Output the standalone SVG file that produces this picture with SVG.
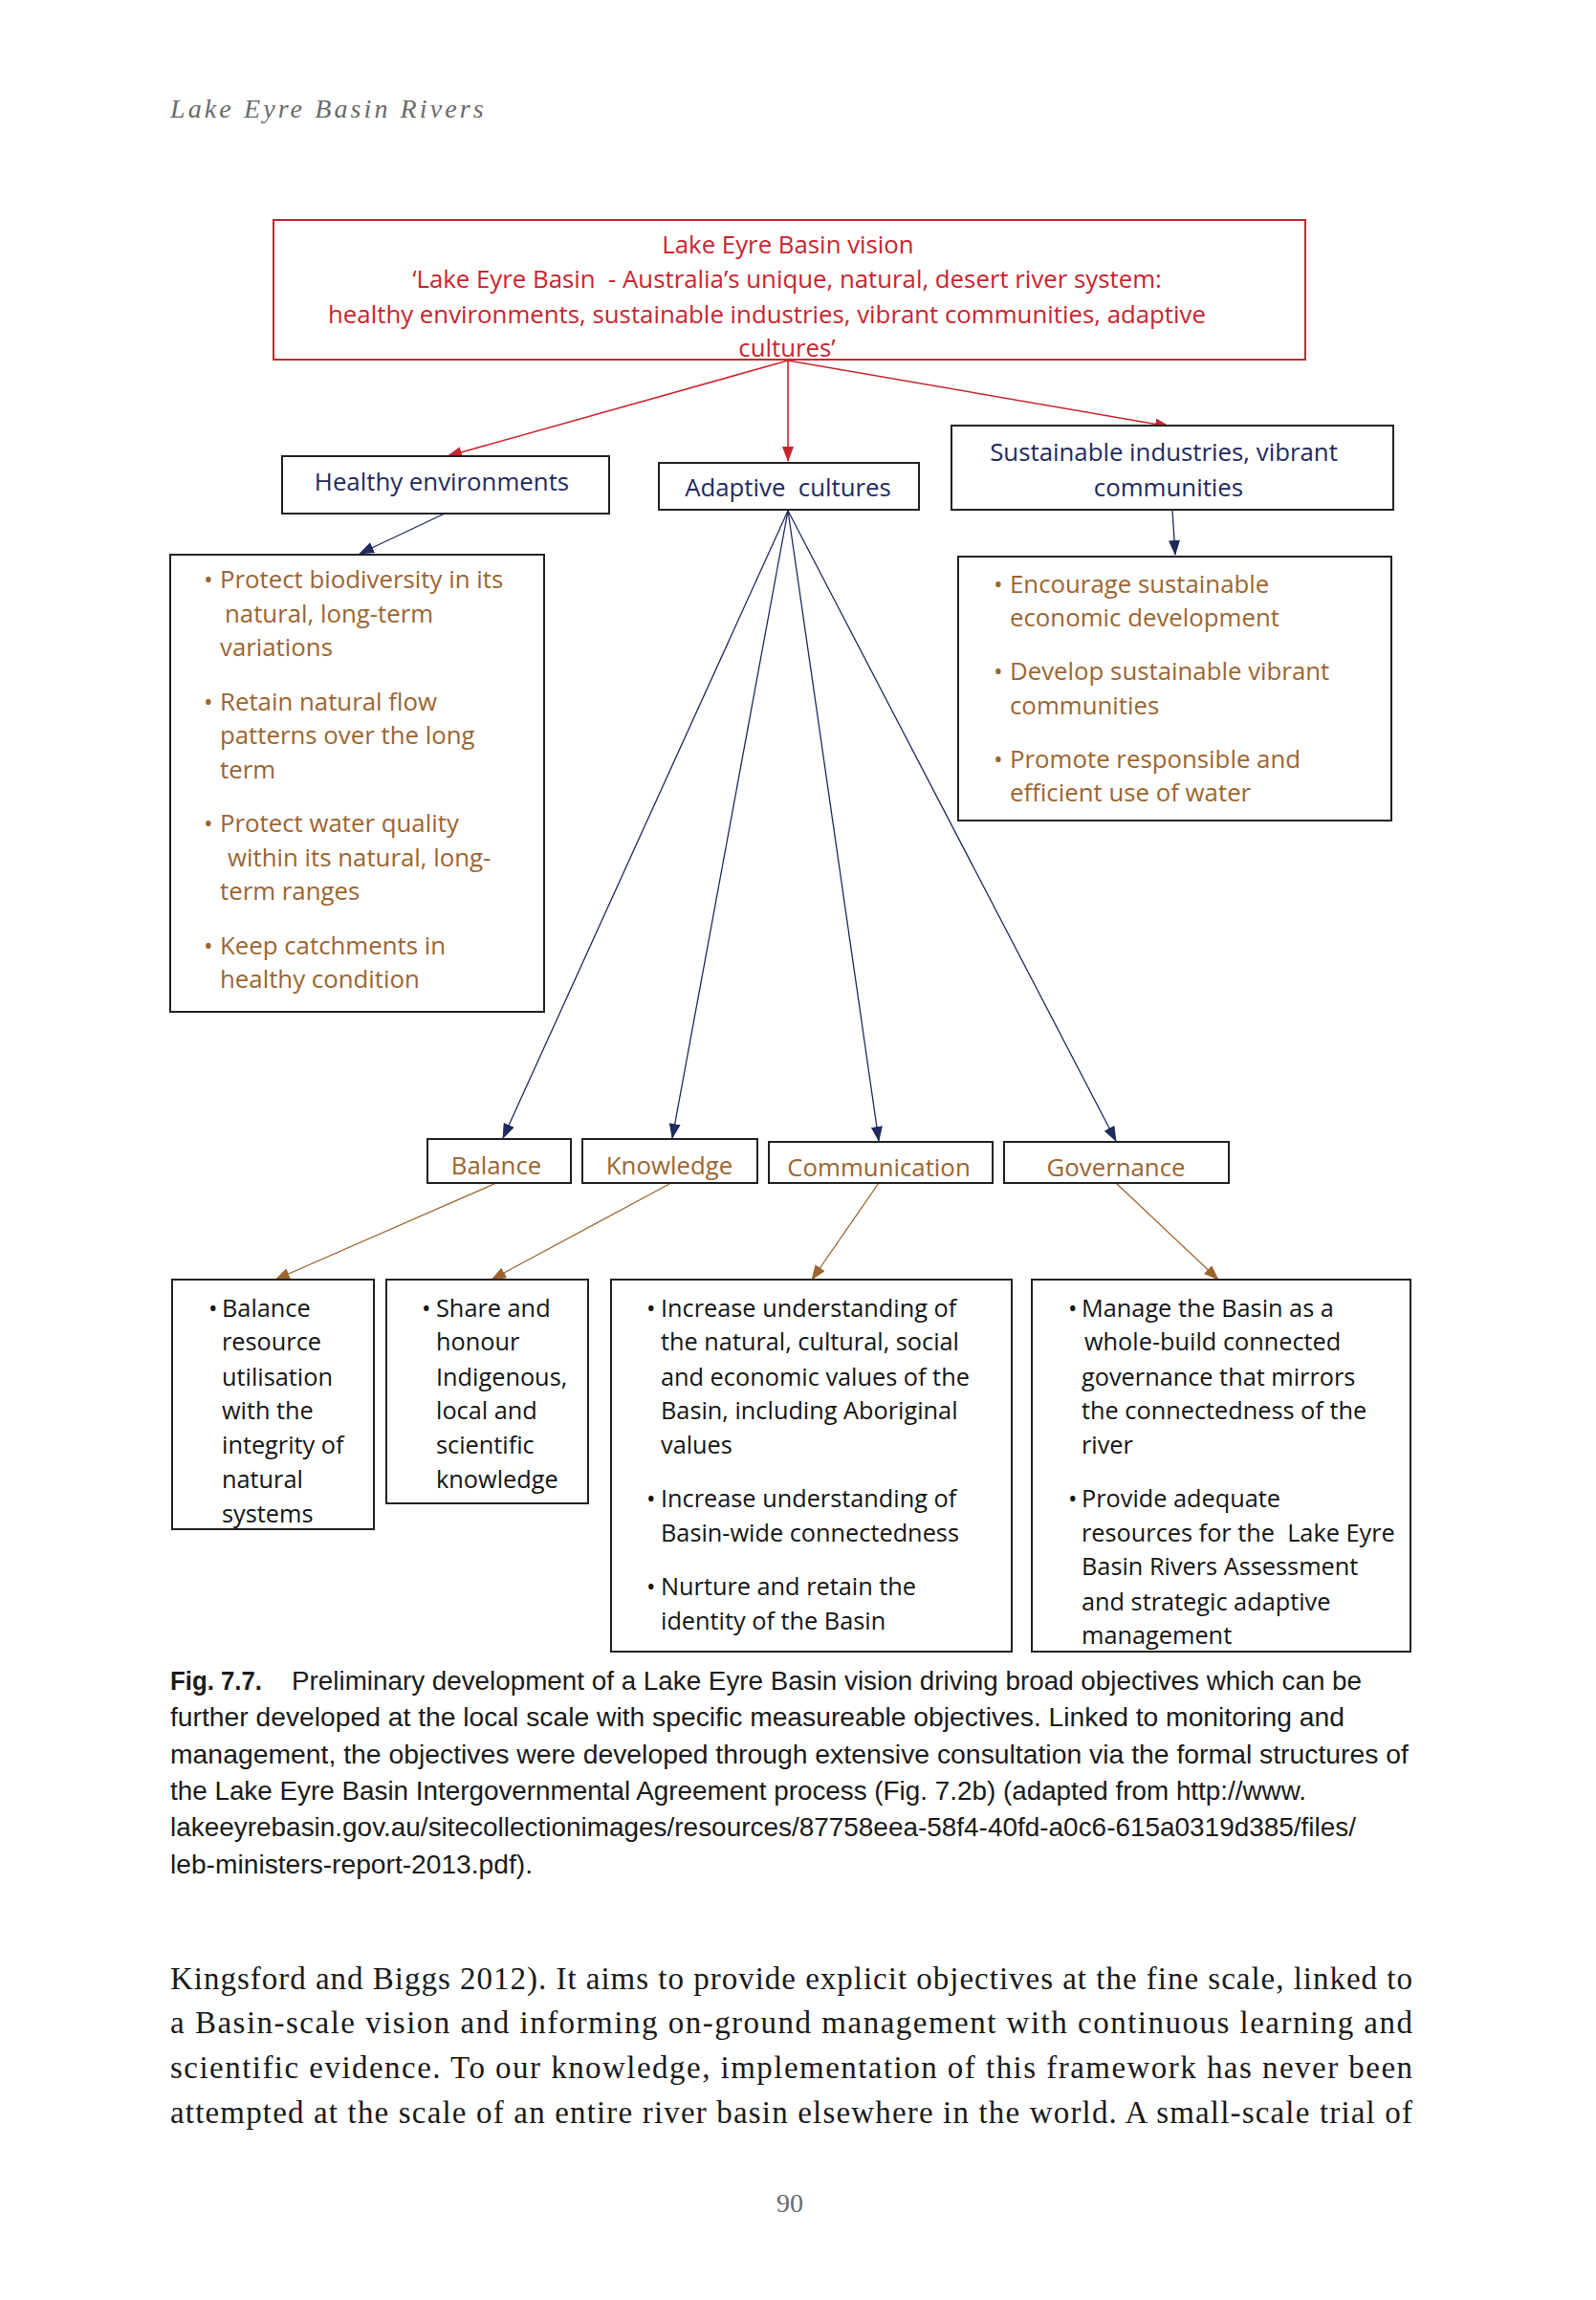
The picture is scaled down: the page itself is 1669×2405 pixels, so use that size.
<svg xmlns="http://www.w3.org/2000/svg" width="1669" height="2405" viewBox="0 0 1669 2405">
<style>
.bg{fill:#ffffff}
.box{fill:#ffffff;stroke:#222222;stroke-width:2}
.vbox{fill:#ffffff;stroke:#c9252f;stroke-width:2}
.gs{font-family:"Open Sans","Lato","Liberation Sans",sans-serif;font-size:25.8px}
.red{fill:#c9252f}
.navy{fill:#1f2a5e}
.brown{fill:#9c6530}
.blk{fill:#141414;font-size:25.3px}
.cap{font-family:"Liberation Sans","Arial",sans-serif;font-size:27.5px;fill:#1a1a1a}
.body{font-family:"Liberation Serif","Times New Roman",serif;font-size:33px;fill:#1a1a1a}
.lr{stroke:#c9252f;stroke-width:1.6;fill:none}
.ln{stroke:#1f2a5e;stroke-width:1.3;fill:none}
.lb{stroke:#9c6530;stroke-width:1.3;fill:none}
</style>
<defs>
<marker id="ar" markerUnits="userSpaceOnUse" markerWidth="16" markerHeight="12" refX="15" refY="6" orient="auto"><path d="M0,0 L16,6 L0,12 z" fill="#c9252f"/></marker>
<marker id="an" markerUnits="userSpaceOnUse" markerWidth="16" markerHeight="12" refX="15" refY="6" orient="auto"><path d="M0,0 L16,6 L0,12 z" fill="#1f2a5e"/></marker>
<marker id="ab" markerUnits="userSpaceOnUse" markerWidth="16" markerHeight="12" refX="15" refY="6" orient="auto"><path d="M0,0 L16,6 L0,12 z" fill="#9c6530"/></marker>
</defs>
<rect class="bg" x="0" y="0" width="1669" height="2405"/>

<text x="178" y="123" font-family="Liberation Serif,serif" font-style="italic" font-size="28" letter-spacing="3.1" fill="#6a6a6a">Lake Eyre Basin Rivers</text>

<g id="connectors">
<path class="lr" d="M824,377 L468,477" marker-end="url(#ar)"/>
<path class="lr" d="M824,377 L824,482" marker-end="url(#ar)"/>
<path class="lr" d="M824,377 L1223,446" marker-end="url(#ar)"/>
<path class="ln" d="M465,537 L376,579" marker-end="url(#an)"/>
<path class="ln" d="M1226,533 L1229,580" marker-end="url(#an)"/>
<path class="ln" d="M824,534 L526,1190" marker-end="url(#an)"/>
<path class="ln" d="M824,534 L703,1190" marker-end="url(#an)"/>
<path class="ln" d="M824,534 L919,1193" marker-end="url(#an)"/>
<path class="ln" d="M824,534 L1167,1193" marker-end="url(#an)"/>
<path class="lb" d="M519,1237 L288,1338" marker-end="url(#ab)"/>
<path class="lb" d="M700,1238 L514,1338" marker-end="url(#ab)"/>
<path class="lb" d="M919,1237 L849,1338" marker-end="url(#ab)"/>
<path class="lb" d="M1167,1237 L1274,1338" marker-end="url(#ab)"/>
</g>

<g id="vision">
<rect class="vbox" x="286" y="230" width="1079" height="146"/>
<g class="gs red" text-anchor="middle">
<text x="824" y="265">Lake Eyre Basin vision</text>
<text x="823" y="301">‘Lake Eyre Basin&#160; - Australia’s unique, natural, desert river system:</text>
<text x="802" y="338">healthy environments, sustainable industries, vibrant communities, adaptive</text>
<text x="823" y="373">cultures’</text>
</g>
</g>

<g id="healthy">
<rect class="box" x="295" y="477" width="342" height="60"/>
<text class="gs navy" x="462" y="513" text-anchor="middle">Healthy environments</text>
</g>

<g id="adaptive">
<rect class="box" x="689" y="484" width="272" height="49"/>
<text class="gs navy" x="824" y="519" text-anchor="middle">Adaptive&#160; cultures</text>
</g>

<g id="sustainable">
<rect class="box" x="995" y="445" width="462" height="88"/>
<g class="gs navy" text-anchor="middle">
<text x="1217" y="482">Sustainable industries, vibrant</text>
<text x="1222" y="519">communities</text>
</g>
</g>

<g id="healthy-objectives">
<rect class="box" x="178" y="580" width="391" height="478"/>
<g class="gs brown">
<text x="213" y="615">•</text><text x="230" y="615">Protect biodiversity in its</text>
<text x="235" y="651">natural, long-term</text>
<text x="230" y="686">variations</text>
<text x="213" y="743">•</text><text x="230" y="743">Retain natural flow</text>
<text x="230" y="778">patterns over the long</text>
<text x="230" y="814">term</text>
<text x="213" y="870">•</text><text x="230" y="870">Protect water quality</text>
<text x="238" y="906">within its natural, long-</text>
<text x="230" y="941">term ranges</text>
<text x="213" y="998">•</text><text x="230" y="998">Keep catchments in</text>
<text x="230" y="1033">healthy condition</text>
</g>
</g>

<g id="sustainable-objectives">
<rect class="box" x="1002" y="582" width="453" height="276"/>
<g class="gs brown">
<text x="1039" y="620">•</text><text x="1056" y="620">Encourage sustainable</text>
<text x="1056" y="655">economic development</text>
<text x="1039" y="711">•</text><text x="1056" y="711">Develop sustainable vibrant</text>
<text x="1056" y="747">communities</text>
<text x="1039" y="803">•</text><text x="1056" y="803">Promote responsible and</text>
<text x="1056" y="838">efficient use of water</text>
</g>
</g>

<g id="balance">
<rect class="box" x="447" y="1191" width="150" height="46"/>
<text class="gs brown" x="519" y="1228" text-anchor="middle">Balance</text>
</g>
<g id="knowledge">
<rect class="box" x="609" y="1191" width="183" height="46"/>
<text class="gs brown" x="700" y="1228" text-anchor="middle">Knowledge</text>
</g>
<g id="communication">
<rect class="box" x="804" y="1194" width="234" height="43"/>
<text class="gs brown" x="919" y="1230" text-anchor="middle">Communication</text>
</g>
<g id="governance">
<rect class="box" x="1050" y="1194" width="235" height="43"/>
<text class="gs brown" x="1167" y="1230" text-anchor="middle">Governance</text>
</g>

<g id="balance-objectives">
<rect class="box" x="180" y="1338" width="211" height="261"/>
<g class="gs blk">
<text x="218" y="1377">•</text><text x="232" y="1377">Balance</text>
<text x="232" y="1412">resource</text>
<text x="232" y="1449">utilisation</text>
<text x="232" y="1484">with the</text>
<text x="232" y="1520">integrity of</text>
<text x="232" y="1556">natural</text>
<text x="232" y="1592">systems</text>
</g>
</g>

<g id="knowledge-objectives">
<rect class="box" x="404" y="1338" width="211" height="234"/>
<g class="gs blk">
<text x="441" y="1377">•</text><text x="456" y="1377">Share and</text>
<text x="456" y="1412">honour</text>
<text x="456" y="1449">Indigenous,</text>
<text x="456" y="1484">local and</text>
<text x="456" y="1520">scientific</text>
<text x="456" y="1556">knowledge</text>
</g>
</g>

<g id="communication-objectives">
<rect class="box" x="639" y="1338" width="419" height="389"/>
<g class="gs blk">
<text x="676" y="1377">•</text><text x="691" y="1377">Increase understanding of</text>
<text x="691" y="1412">the natural, cultural, social</text>
<text x="691" y="1449">and economic values of the</text>
<text x="691" y="1484">Basin, including Aboriginal</text>
<text x="691" y="1520">values</text>
<text x="676" y="1576">•</text><text x="691" y="1576">Increase understanding of</text>
<text x="691" y="1612">Basin-wide connectedness</text>
<text x="676" y="1668">•</text><text x="691" y="1668">Nurture and retain the</text>
<text x="691" y="1704">identity of the Basin</text>
</g>
</g>

<g id="governance-objectives">
<rect class="box" x="1079" y="1338" width="396" height="389"/>
<g class="gs blk">
<text x="1117" y="1377">•</text><text x="1131" y="1377">Manage the Basin as a</text>
<text x="1134" y="1412">whole-build connected</text>
<text x="1131" y="1449">governance that mirrors</text>
<text x="1131" y="1484">the connectedness of the</text>
<text x="1131" y="1520">river</text>
<text x="1117" y="1576">•</text><text x="1131" y="1576">Provide adequate</text>
<text x="1131" y="1612">resources for the&#160; Lake Eyre</text>
<text x="1131" y="1647">Basin Rivers Assessment</text>
<text x="1131" y="1684">and strategic adaptive</text>
<text x="1131" y="1719">management</text>
</g>
</g>

<g id="caption" class="cap">
<text x="178" y="1767" font-weight="bold" textLength="96" lengthAdjust="spacingAndGlyphs">Fig. 7.7.</text>
<text x="305" y="1767" textLength="1119" lengthAdjust="spacingAndGlyphs">Preliminary development of a Lake Eyre Basin vision driving broad objectives which can be</text>
<text x="178" y="1805" textLength="1228" lengthAdjust="spacingAndGlyphs">further developed at the local scale with specific measureable objectives. Linked to monitoring and</text>
<text x="178" y="1844" textLength="1295" lengthAdjust="spacingAndGlyphs">management, the objectives were developed through extensive consultation via the formal structures of</text>
<text x="178" y="1882" textLength="1188" lengthAdjust="spacingAndGlyphs">the Lake Eyre Basin Intergovernmental Agreement process (Fig. 7.2b) (adapted from http://www.</text>
<text x="178" y="1920" textLength="1240" lengthAdjust="spacingAndGlyphs">lakeeyrebasin.gov.au/sitecollectionimages/resources/87758eea-58f4-40fd-a0c6-615a0319d385/files/</text>
<text x="178" y="1959" textLength="379" lengthAdjust="spacingAndGlyphs">leb-ministers-report-2013.pdf).</text>
</g>

<g id="body" class="body">
<text x="178" y="2080" textLength="1299" lengthAdjust="spacing">Kingsford and Biggs 2012). It aims to provide explicit objectives at the fine scale, linked to</text>
<text x="178" y="2126" textLength="1299" lengthAdjust="spacing">a Basin-scale vision and informing on-ground management with continuous learning and</text>
<text x="178" y="2173" textLength="1299" lengthAdjust="spacing">scientific evidence. To our knowledge, implementation of this framework has never been</text>
<text x="178" y="2220" textLength="1299" lengthAdjust="spacing">attempted at the scale of an entire river basin elsewhere in the world. A small-scale trial of</text>
</g>

<text x="826" y="2313" font-family="Liberation Serif,serif" font-size="28" fill="#6a6a6a" text-anchor="middle">90</text>
</svg>
